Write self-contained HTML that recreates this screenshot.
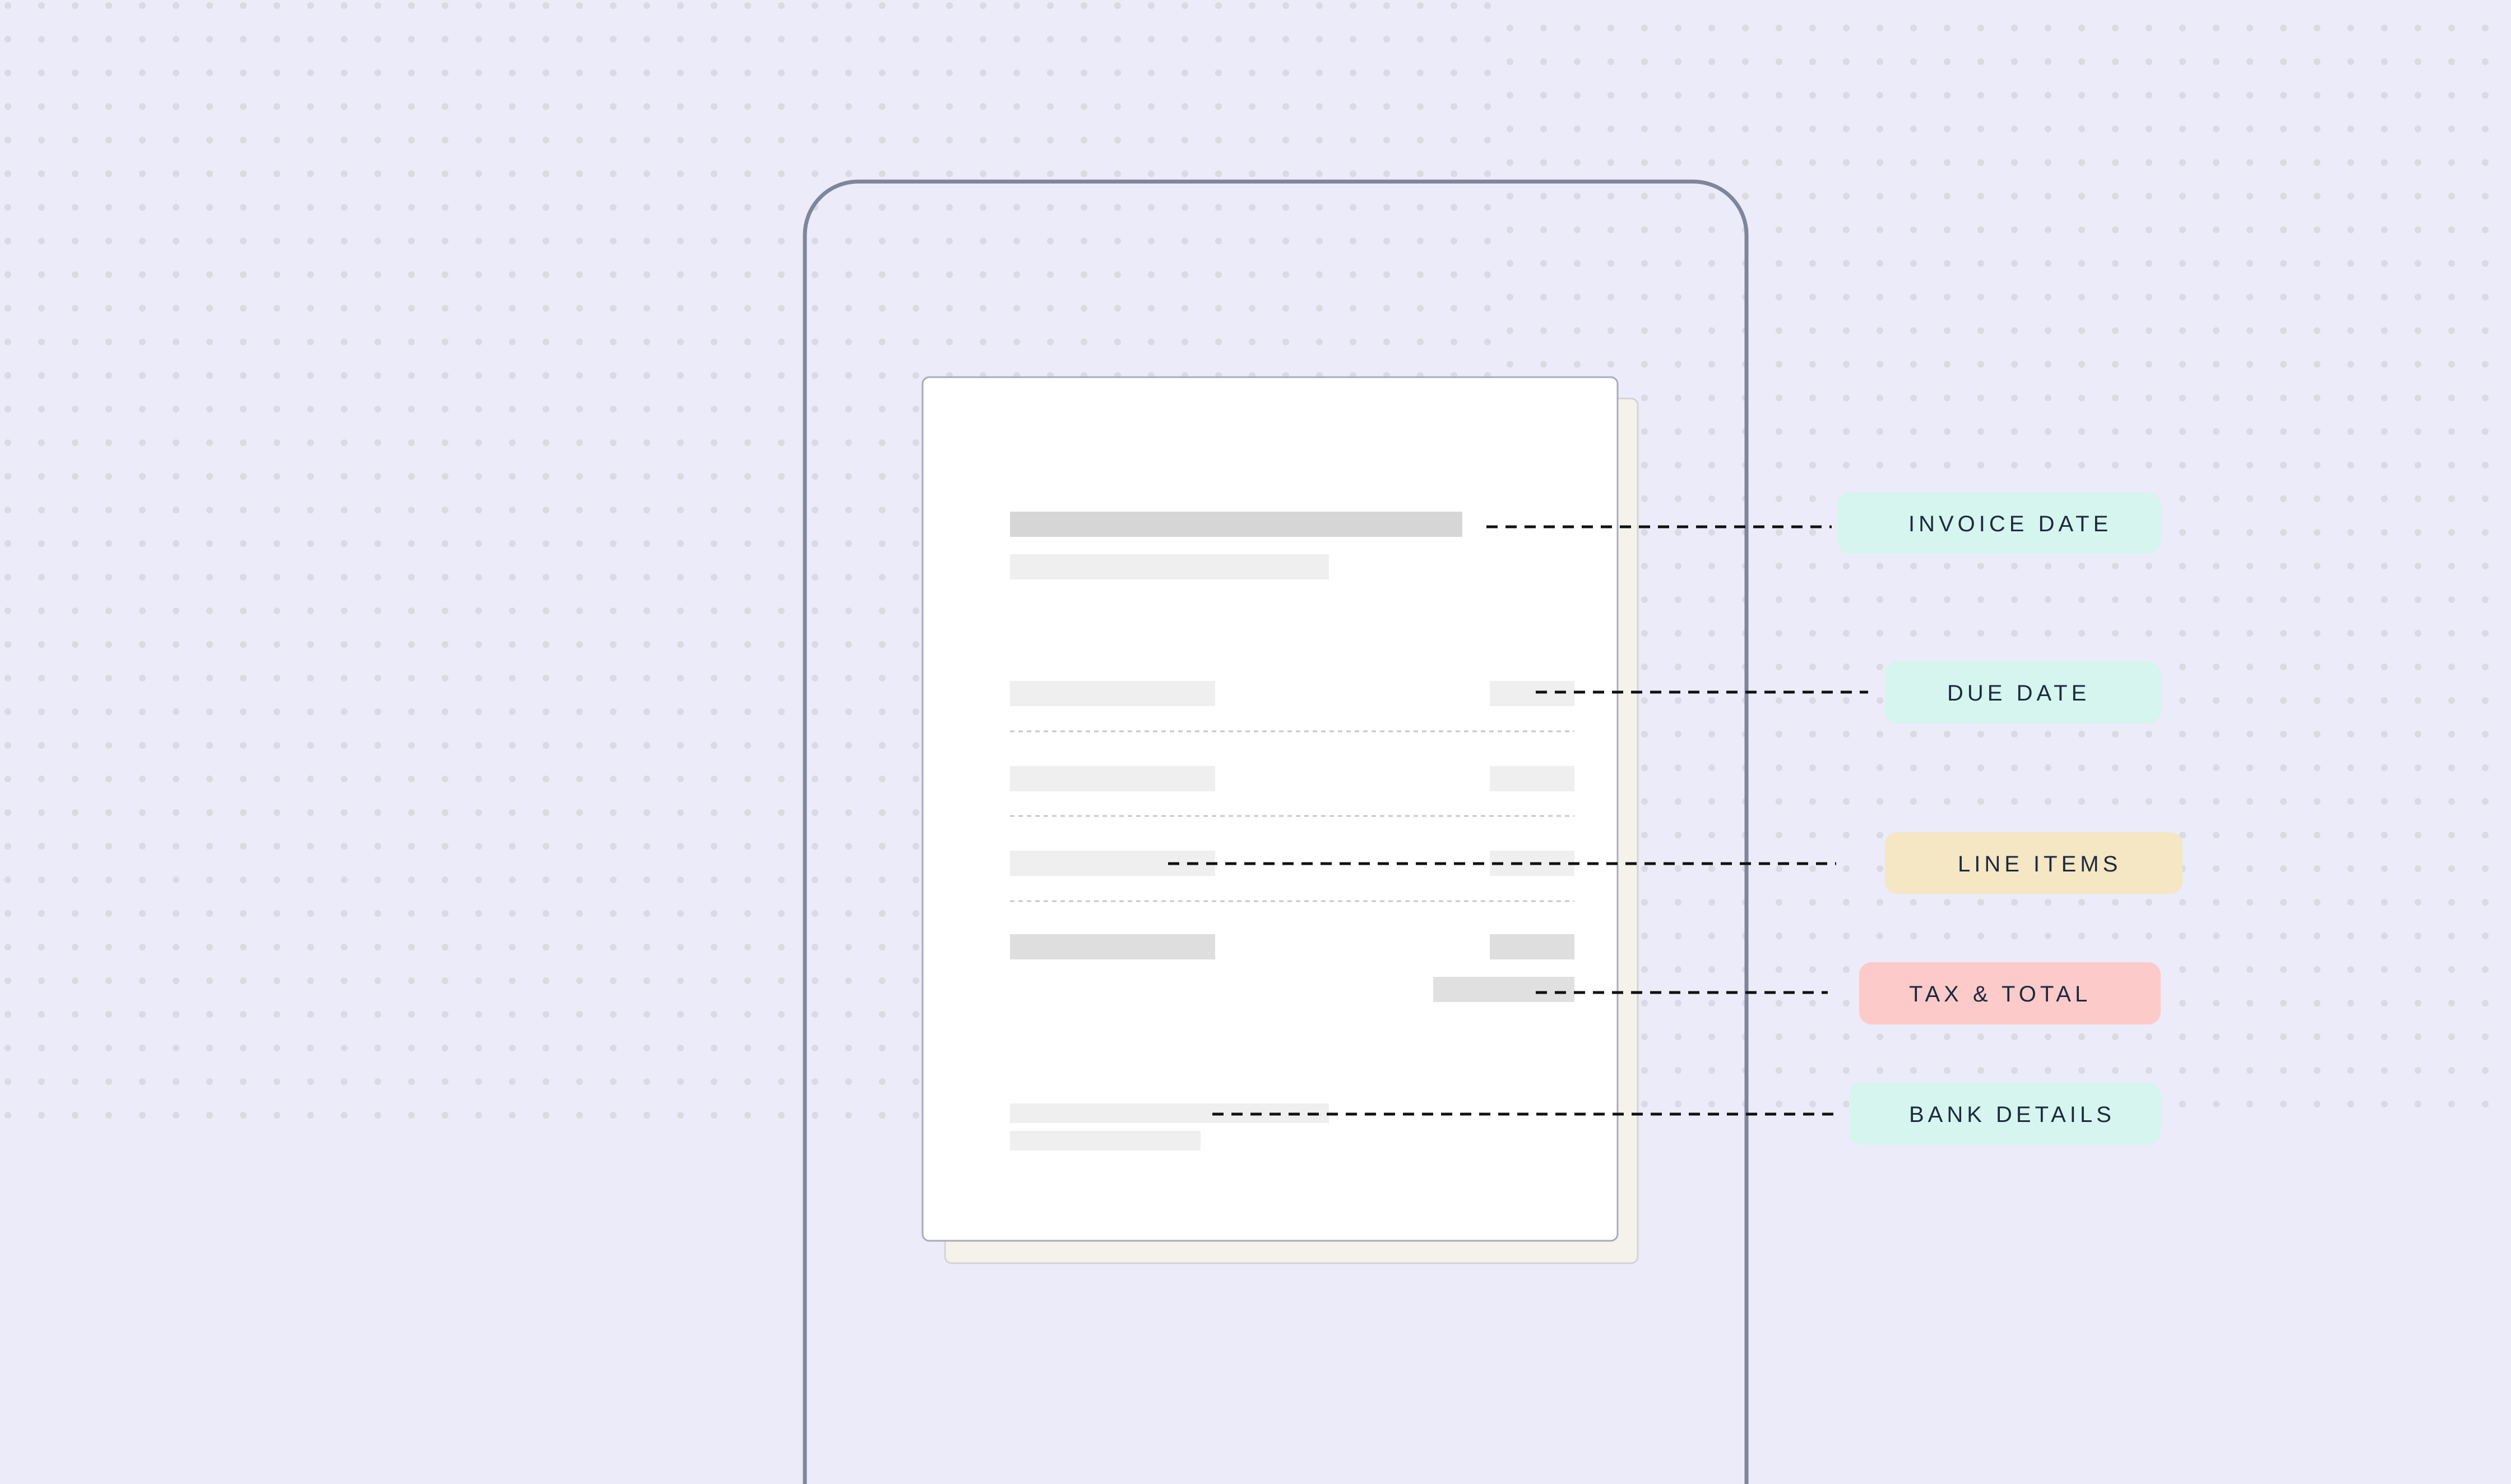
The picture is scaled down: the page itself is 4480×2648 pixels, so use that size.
<!DOCTYPE html>
<html><head><meta charset="utf-8"><style>
html,body{margin:0;padding:0;background:#ecebfa;}
svg{display:block;}
</style></head><body>
<svg width="4480" height="2648" viewBox="0 0 4480 2648" xmlns="http://www.w3.org/2000/svg">
<defs>
<pattern id="p1" patternUnits="userSpaceOnUse" width="60" height="60"><circle cx="14" cy="10" r="6" fill="#d9dae3"/></pattern>
<pattern id="p2" patternUnits="userSpaceOnUse" width="60" height="60"><circle cx="54" cy="50" r="6" fill="#d9dae3"/></pattern>
</defs>
<rect width="4480" height="2648" fill="#ecebfa"/>
<rect x="0" y="0" width="2680" height="2020" fill="url(#p1)"/>
<rect x="2680" y="20" width="1800" height="1990" fill="url(#p2)"/>
<path d="M1436,2660 V419 A95 95 0 0 1 1531 324 H3021 A95 95 0 0 1 3116 419 V2660" fill="none" stroke="#7f869b" stroke-width="7"/>
<rect x="1686" y="711" width="1236" height="1543" rx="12" fill="#f5f2ec" stroke="#d6d4d0" stroke-width="3"/>
<rect x="1646" y="673" width="1240" height="1541" rx="12" fill="#ffffff" stroke="#a9abbb" stroke-width="3"/>
<rect x="1802" y="913" width="807" height="45" fill="#d6d6d6"/>
<rect x="1802" y="989" width="569" height="45" fill="#efefef"/>
<rect x="1802" y="1215" width="366" height="45" fill="#efefef"/>
<rect x="2658" y="1215" width="151" height="45" fill="#efefef"/>
<rect x="1802" y="1367" width="366" height="45" fill="#efefef"/>
<rect x="2658" y="1367" width="151" height="45" fill="#efefef"/>
<rect x="1802" y="1518" width="366" height="45" fill="#efefef"/>
<rect x="2658" y="1518" width="151" height="45" fill="#efefef"/>
<rect x="1802" y="1667" width="366" height="45" fill="#dedede"/>
<rect x="2658" y="1667" width="151" height="45" fill="#dedede"/>
<rect x="2557" y="1743" width="252" height="45" fill="#e0e0e0"/>
<rect x="1802" y="1969" width="569" height="35" fill="#efefef"/>
<rect x="1802" y="2018" width="340" height="35" fill="#efefef"/>
<g stroke="#c8c8c8" stroke-width="3" stroke-dasharray="8 7">
<line x1="1802" y1="1305" x2="2809" y2="1305"/>
<line x1="1802" y1="1456" x2="2809" y2="1456"/>
<line x1="1802" y1="1608" x2="2809" y2="1608"/>
</g>
<g stroke="#111" stroke-width="5" stroke-dasharray="20 14">
<line x1="2652" y1="940" x2="3268" y2="940"/>
<line x1="2740" y1="1235" x2="3333" y2="1235"/>
<line x1="2084" y1="1541" x2="3276" y2="1541"/>
<line x1="2740" y1="1771" x2="3261" y2="1771"/>
<line x1="2163" y1="1988" x2="3276" y2="1988"/>
</g>
<rect x="3279" y="879" width="576" height="109" rx="22" fill="#d5f5ee"/>
<rect x="3363" y="1180" width="492" height="111" rx="22" fill="#d5f5ee"/>
<rect x="3363" y="1485" width="531" height="110" rx="22" fill="#f5e6c4"/>
<rect x="3317" y="1717" width="538" height="111" rx="22" fill="#fdcaca"/>
<rect x="3299" y="1932" width="556" height="111" rx="22" fill="#d5f5ee"/>
<g font-family="Liberation Sans, sans-serif" font-size="40" fill="#1c2a3e" letter-spacing="7">
<text x="3405" y="948">INVOICE DATE</text>
<text x="3474" y="1250">DUE DATE</text>
<text x="3493" y="1555">LINE ITEMS</text>
<text x="3406" y="1787">TAX &amp; TOTAL</text>
<text x="3406" y="2002">BANK DETAILS</text>
</g>
</svg>
</body></html>
